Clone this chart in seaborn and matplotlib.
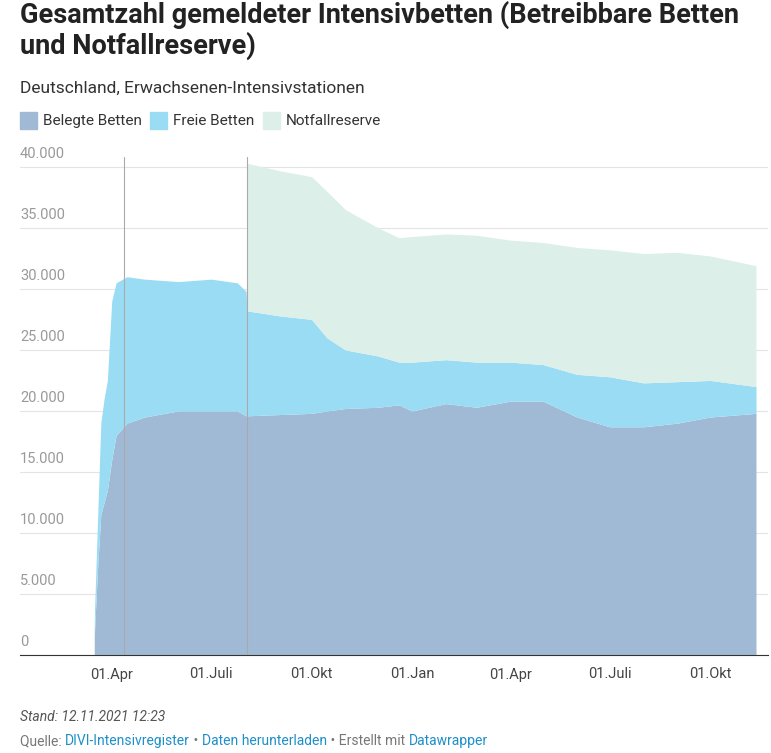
import matplotlib
matplotlib.use("Agg")
import matplotlib.pyplot as plt
import seaborn as sns
import pandas as pd
import numpy as np

dates = ["2020-03-16","2020-03-19","2020-03-22","2020-03-25","2020-03-28","2020-04-01","2020-04-05",
         "2020-04-15","2020-05-01","2020-06-01","2020-07-01","2020-07-25","2020-08-02","2020-08-03",
         "2020-09-01","2020-10-01","2020-10-15","2020-11-01","2020-12-01","2020-12-20","2021-01-01",
         "2021-02-01","2021-03-01","2021-04-01","2021-05-01","2021-06-01","2021-07-01","2021-08-01",
         "2021-09-01","2021-10-01","2021-11-12"]
belegt = [1500,7000,11500,12500,13500,16000,18000,19000,19500,20000,20000,20000,19600,19600,
          19700,19800,20000,20200,20300,20500,20000,20600,20300,20800,20800,19500,18700,18700,
          19000,19500,19800]
betreibbar = [3000,11000,19000,21000,22500,29000,30500,31000,30800,30600,30800,30500,29800,28200,
              27800,27500,26000,25000,24500,24000,24000,24200,24000,24000,23800,23000,22800,22300,
              22400,22500,22000]
mit_reserve = [np.nan]*13 + [40300,39700,39200,38000,36500,35000,34200,34300,34500,34400,34000,
               33800,33400,33200,32900,33000,32700,31900]

df = pd.DataFrame({"date": pd.to_datetime(dates), "belegt": belegt,
                   "betreibbar": betreibbar, "reserve": mit_reserve})

sns.set_style("white")
plt.rcParams["font.family"] = ["Roboto", "DejaVu Sans"]

c_bel, c_frei, c_res = "#a0b9d4", "#9adcf4", "#dcefe8"

fig = plt.figure(figsize=(7.71, 7.53), dpi=100)
ax = fig.add_axes([20/771, 1-655/753, 748/771, (655-162)/753])

ax.fill_between(df["date"], 0, df["belegt"], color=c_bel, lw=0)
ax.fill_between(df["date"], df["belegt"], df["betreibbar"], color=c_frei, lw=0)
m = df["reserve"].notna()
ax.fill_between(df["date"][m], df["betreibbar"][m], df["reserve"][m], color=c_res, lw=0)

ax.set_xlim(pd.Timestamp("2020-01-08"), pd.Timestamp("2021-11-23"))
ax.set_ylim(0, 40400)
yt = [0,5000,10000,15000,20000,25000,30000,35000,40000]
ax.set_yticks(yt)
ax.set_yticklabels([])
ax.tick_params(axis="y", length=0)
for v in yt:
    ax.axhline(v, color="#e4e4e4", lw=0.8, zorder=0.5 if v else 3)
    ax.text(0.0, v+500, f"{v:,}".replace(",", ".") if v else "0", transform=ax.get_yaxis_transform(),
            ha="left", va="bottom", fontsize=10.5, color="#9a9a9a")
for d in ["2020-04-12", "2020-08-03"]:
    ax.axvline(pd.Timestamp(d), color="#aaaaaa", lw=0.8, ymin=0, ymax=1.01, clip_on=False)
xt = pd.to_datetime(["2020-04-01","2020-07-01","2020-10-01","2021-01-01","2021-04-01","2021-07-01","2021-10-01"])
ax.set_xticks(xt)
ax.set_xticklabels(["01.Apr","01.Juli","01.Okt","01.Jan","01.Apr","01.Juli","01.Okt"], fontsize=10.5, color="#444444")
ax.tick_params(axis="x", length=4, color="#333333", pad=5)
for s in ["top", "right", "left"]:
    ax.spines[s].set_visible(False)
ax.spines["bottom"].set_color("#333333")
ax.spines["bottom"].set_linewidth(0.8)

fig.text(20/771, 1-1/753, "Gesamtzahl gemeldeter Intensivbetten (Betreibbare Betten\nund Notfallreserve)",
         fontsize=19.5, fontweight="bold", va="top", color="#222222", linespacing=1.1)
fig.text(20/771, 1-88/753, "Deutschland, Erwachsenen-Intensivstationen", fontsize=12.5, va="center", color="#333333")
x = 20
for lab, col in [("Belegte Betten", c_bel), ("Freie Betten", c_frei), ("Notfallreserve", c_res)]:
    fig.patches.append(plt.Rectangle((x/771, 1-129/753), 17/771, 17/753, color=col, transform=fig.transFigure))
    fig.text((x+23)/771, 1-121/753, lab, fontsize=11, va="center", color="#333333")
    x += {"Belegte Betten": 130, "Freie Betten": 113}.get(lab, 0)
fig.text(20/771, 1-717/753, "Stand: 12.11.2021 12:23", fontsize=10, style="italic", va="center", color="#555555")
parts = [("Quelle: ", "#777777"), ("DIVI-Intensivregister", "#1d8fc9"), (" • ", "#777777"),
         ("Daten herunterladen", "#1d8fc9"), (" • Erstellt mit ", "#777777"), ("Datawrapper", "#1d8fc9")]
fig.canvas.draw()
r = fig.canvas.get_renderer()
xp = 20
for s, c in parts:
    t = fig.text(xp/771, 1-741/753, s, fontsize=10, va="center", color=c)
    xp += t.get_window_extent(r).width
fig.savefig("out.png", dpi=100)
